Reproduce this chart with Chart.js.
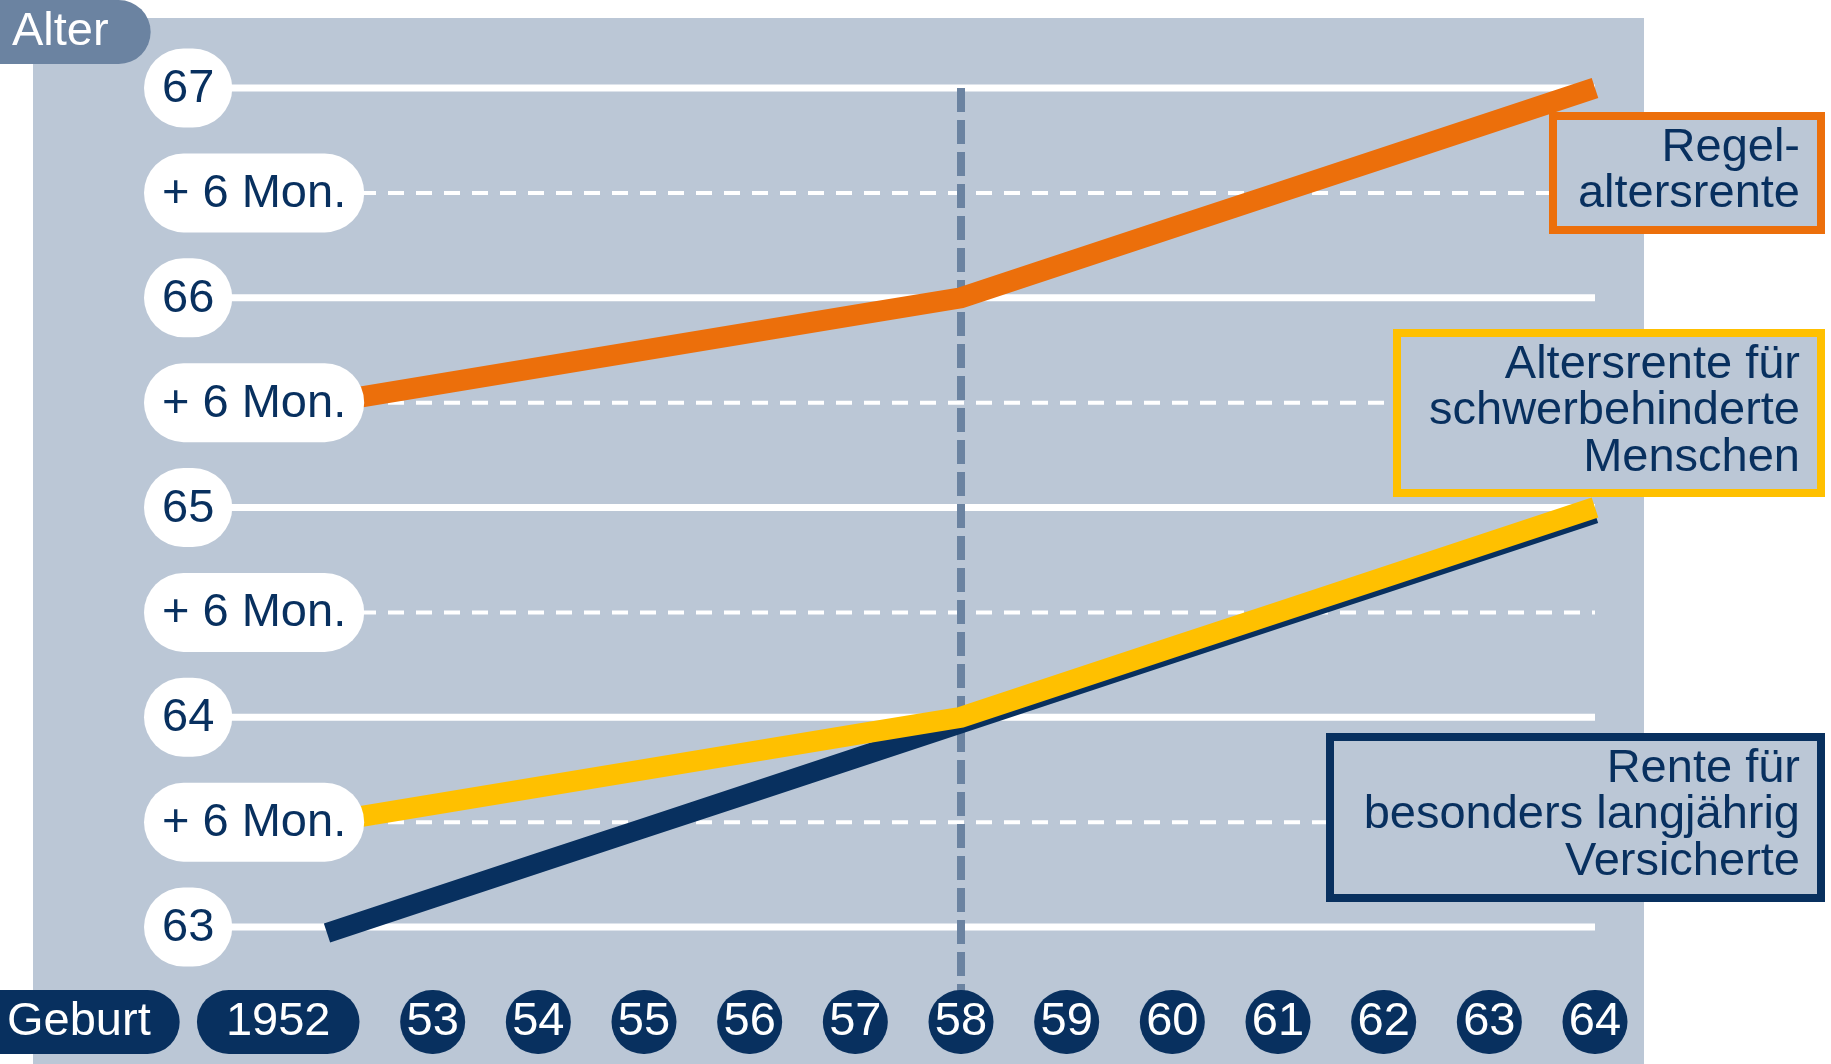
<!DOCTYPE html>
<html lang="de">
<head>
<meta charset="utf-8">
<title>Renteneintrittsalter nach Geburtsjahrgang</title>
<script src="https://cdn.jsdelivr.net/npm/chart.js@4.4.1/dist/chart.umd.min.js"></script>
<style>
  html, body { margin: 0; padding: 0; background: #fff; }
  #chart { display: block; }
</style>
</head>
<body>
<canvas id="chart" width="1831" height="1064"></canvas>
<script>
// Geburtsjahrgaenge
const years = [1952, 1953, 1954, 1955, 1956, 1957, 1958, 1959, 1960, 1961, 1962, 1963, 1964];
const yearLabels = ["1952", "53", "54", "55", "56", "57", "58", "59", "60", "61", "62", "63", "64"];

// Rentenalter in Monaten
const regelaltersrente = [786, 787, 788, 789, 790, 791, 792, 794, 796, 798, 800, 802, 804];
const schwerbehinderte = [762, 763, 764, 765, 766, 767, 768, 770, 772, 774, 776, 778, 780];
const langjaehrig = [756, 758, 760, 762, 764, 766, 768, 770, 772, 774, 776, 778, 780];

// y-Achse (Jahre)
const ageTicks = [63, 63.5, 64, 64.5, 65, 65.5, 66, 66.5, 67];
const ageLabels = ["63", "+ 6 Mon.", "64", "+ 6 Mon.", "65", "+ 6 Mon.", "66", "+ 6 Mon.", "67"];

const markYear = 1958;

const regelLines = ["Regel-", "altersrente"];
const schwerLines = ["Altersrente für", "schwerbehinderte", "Menschen"];
const langLines = ["Rente für", "besonders langjährig", "Versicherte"];

const NAVY = "#08305f";
const ORANGE = "#ec6f0b";
const YELLOW = "#ffc000";
const SLATE = "#6b83a1";
const PANEL = "#bbc7d6";
const FONT = '47px "Liberation Sans", Arial, sans-serif';

// legend boxes (outer rect)
const boxes = [
  { lines: regelLines, color: ORANGE, x: 1549, y: 112, w: 276, h: 122 },
  { lines: schwerLines, color: YELLOW, x: 1393, y: 329, w: 432, h: 168 },
  { lines: langLines, color: NAVY, x: 1326, y: 733, w: 499, h: 169 }
];

// rounded pill, optional square left side
function pill(ctx, x, y, w, h, fill, squareLeft) {
  const r = Math.min(h / 2, w / 2);
  ctx.beginPath();
  if (squareLeft) {
    ctx.moveTo(x, y);
    ctx.lineTo(x + w - r, y);
    ctx.arc(x + w - r, y + r, r, -Math.PI / 2, Math.PI / 2);
    ctx.lineTo(x, y + h);
  } else {
    ctx.moveTo(x + r, y);
    ctx.lineTo(x + w - r, y);
    ctx.arc(x + w - r, y + r, r, -Math.PI / 2, Math.PI / 2);
    ctx.lineTo(x + r, y + h);
    ctx.arc(x + r, y + r, r, Math.PI / 2, Math.PI * 1.5);
  }
  ctx.closePath();
  ctx.fillStyle = fill;
  ctx.fill();
}

const backdrop = {
  id: "backdrop",
  beforeDatasetsDraw(chart) {
    const ctx = chart.ctx;
    const xs = chart.scales.x, ys = chart.scales.y;
    const area = chart.chartArea;
    ctx.save();
    ctx.fillStyle = "#fff";
    ctx.fillRect(0, 0, chart.width, chart.height);
    ctx.fillStyle = PANEL;
    ctx.fillRect(33, 18, 1611, chart.height - 18);

    // horizontal grid lines
    ageTicks.forEach(v => {
      const y = ys.getPixelForValue(v);
      ctx.beginPath();
      ctx.strokeStyle = "#fff";
      if (Number.isInteger(v)) {
        ctx.lineWidth = 7;
        ctx.setLineDash([]);
        ctx.moveTo(150, y);
      } else {
        ctx.lineWidth = 4;
        ctx.setLineDash([16, 12]);
        ctx.moveTo(360, y);
      }
      ctx.lineTo(area.right, y);
      ctx.stroke();
    });

    // vertical marker at 1958
    const mx = xs.getPixelForValue(markYear);
    ctx.beginPath();
    ctx.strokeStyle = SLATE;
    ctx.lineWidth = 8;
    ctx.setLineDash([24, 8]);
    ctx.moveTo(mx, ys.getPixelForValue(67));
    ctx.lineTo(mx, 1000);
    ctx.stroke();
    ctx.restore();
  },
  // navy line sits a little below the yellow one
  beforeDatasetDraw(chart, args) {
    if (args.index === 2) {
      chart.ctx.save();
      chart.ctx.translate(0, 6);
    }
  },
  afterDatasetDraw(chart, args) {
    if (args.index === 2) chart.ctx.restore();
  },
  afterDraw(chart) {
    const ctx = chart.ctx;
    const xs = chart.scales.x, ys = chart.scales.y;
    ctx.save();
    ctx.font = FONT;
    ctx.textBaseline = "alphabetic";

    // y-axis pills
    ageTicks.forEach((v, i) => {
      const y = ys.getPixelForValue(v);
      const tw = ctx.measureText(ageLabels[i]).width;
      const w = Math.max(79, tw + 36);
      pill(ctx, 144, y - 39.5, w, 79, "#fff");
      ctx.fillStyle = NAVY;
      ctx.textAlign = "center";
      ctx.fillText(ageLabels[i], 144 + w / 2, y + 14);
    });

    // x-axis pills
    const cy = 1022;
    years.forEach((yr, i) => {
      const x = xs.getPixelForValue(yr);
      const label = yearLabels[i];
      const tw = ctx.measureText(label).width;
      let w = 65, left = x - 32.5;
      if (label.length > 2) {
        w = tw + 58;
        left = x + 32.5 - w;
      }
      pill(ctx, left, cy - 32, w, 64, NAVY);
      ctx.fillStyle = "#fff";
      ctx.textAlign = "center";
      ctx.fillText(label, left + w / 2, cy + 12.5);
    });

    // axis titles
    ctx.textAlign = "left";
    let tw = ctx.measureText("Geburt").width;
    pill(ctx, 0, cy - 32, tw + 36, 64, NAVY, true);
    ctx.fillStyle = "#fff";
    ctx.fillText("Geburt", 7, cy + 12.5);

    tw = ctx.measureText("Alter").width;
    pill(ctx, 0, 0, tw + 54, 64, SLATE, true);
    ctx.fillStyle = "#fff";
    ctx.fillText("Alter", 12, 45);

    // legend boxes
    boxes.forEach(b => {
      ctx.fillStyle = PANEL;
      ctx.fillRect(b.x, b.y, b.w, b.h);
      ctx.strokeStyle = b.color;
      ctx.lineWidth = 8;
      ctx.strokeRect(b.x + 4, b.y + 4, b.w - 8, b.h - 8);
      ctx.fillStyle = NAVY;
      ctx.textAlign = "right";
      b.lines.forEach((t, k) => {
        ctx.fillText(t, 1800, b.y + 48.5 + k * 46.5);
      });
    });
    ctx.restore();
  }
};

// months -> years
function series(months) {
  return years.map((yr, i) => ({ x: yr, y: months[i] / 12 }));
}

new Chart(document.getElementById("chart"), {
  type: "line",
  data: {
    datasets: [
      { label: regelLines.join(""), data: series(regelaltersrente), borderColor: ORANGE, borderWidth: 21 },
      { label: schwerLines.join(" "), data: series(schwerbehinderte), borderColor: YELLOW, borderWidth: 21 },
      { label: langLines.join(" "), data: series(langjaehrig), borderColor: NAVY, borderWidth: 20 }
    ].map(d => Object.assign(d, {
      pointRadius: 0,
      tension: 0,
      clip: false,
      borderCapStyle: "butt",
      borderJoinStyle: "miter"
    }))
  },
  options: {
    responsive: false,
    animation: false,
    devicePixelRatio: 1,
    layout: { padding: { left: 327, right: 236, top: 88, bottom: 137 } },
    scales: {
      x: { type: "linear", min: 1952, max: 1964, display: false },
      y: { min: 63, max: 67, display: false }
    },
    plugins: {
      legend: { display: false },
      tooltip: { enabled: false }
    }
  },
  plugins: [backdrop]
});
</script>
</body>
</html>
